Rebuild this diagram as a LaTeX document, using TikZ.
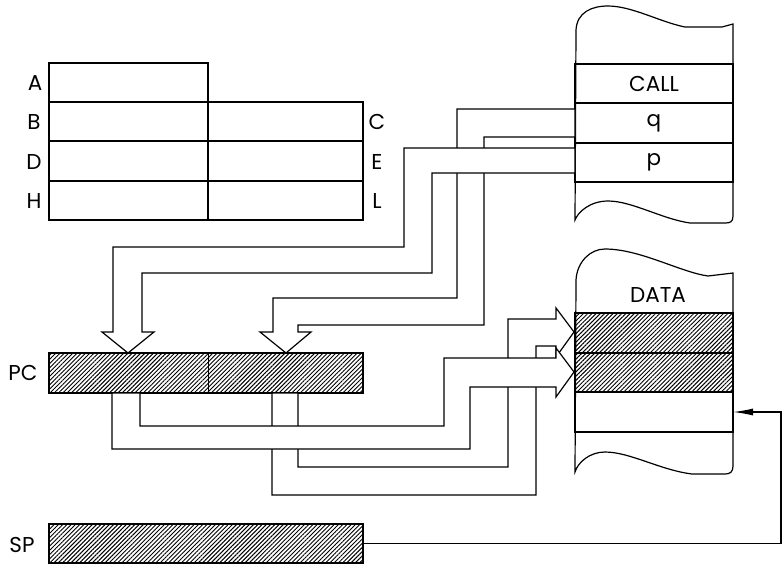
\documentclass[tikz,border=0pt]{standalone}
\usepackage{fontspec}
\setmainfont{Poppins}
\usetikzlibrary{patterns.meta,arrows.meta}
\begin{document}
\begin{tikzpicture}[x=1pt,y=-1pt,
  txt/.style={font=\fontsize{21.5}{24}\selectfont, inner sep=0pt},
  cell/.style={draw, line width=1.3pt, inner sep=0pt, outer sep=0pt, anchor=north west, font=\fontsize{21.5}{24}\selectfont},
  bar/.style={inner sep=0pt, outer sep=0pt, anchor=north west},
  hatch/.style={pattern={Lines[angle=45,distance=3pt,line width=0.95pt]}},
  wide/.style={draw, fill=white, line width=1.2pt, line join=miter},
  memout/.style={draw, fill=white, line width=1.2pt},
  link/.style={draw, line width=1.2pt}]
\useasboundingbox (0,0) rectangle (783,566);

% ---------------- register table ----------------
\node[cell, minimum width=159pt, minimum height=39pt] (A) at (49,63) {};
\node[cell, minimum width=159pt, minimum height=39pt] (B) at (49,102) {};
\node[cell, minimum width=155pt, minimum height=39pt] (C) at (208,102) {};
\node[cell, minimum width=159pt, minimum height=40pt] (D) at (49,141) {};
\node[cell, minimum width=155pt, minimum height=40pt] (E) at (208,141) {};
\node[cell, minimum width=159pt, minimum height=39pt] (H) at (49,181) {};
\node[cell, minimum width=155pt, minimum height=39pt] (L) at (208,181) {};
\node[txt] (lA) at (35,83) {A};
\node[txt] (lB) at (34,122) {B};
\node[txt] (lD) at (34,162) {D};
\node[txt] (lH) at (34,201) {H};
\node[txt] (lC) at (377,122) {C};
\node[txt] (lE) at (377,162) {E};
\node[txt] (lL) at (377,201) {L};

% ---------------- CALL memory ----------------
\path[memout] (575,220) -- (576,30) .. controls (577,12) and (592,6) .. (608,6)
  .. controls (632,6) and (660,22) .. (685,27) -- (722,27) -- (733,24) -- (733,216)
  .. controls (733,222) and (730,223) .. (725,223) -- (690,223)
  .. controls (662,219) and (632,201) .. (608,201)
  .. controls (590,201) and (578,212) .. (575,220) -- cycle;
\node[cell, minimum width=158pt, minimum height=39pt] (call) at (575,64) {CALL};
\node[cell, minimum width=158pt, minimum height=40pt] (cq) at (575,103) {q};
\node[cell, minimum width=158pt, minimum height=39pt] (cp) at (575,143) {p};

% ---------------- DATA memory ----------------
\path[memout] (575,472) -- (576,280) .. controls (577,262) and (590,249) .. (605,249)
  .. controls (640,249) and (680,272) .. (708,276) -- (733,273) -- (733,466)
  .. controls (733,472) and (730,474) .. (725,474) -- (692,474)
  .. controls (660,470) and (630,452) .. (605,452)
  .. controls (590,452) and (578,462) .. (575,472) -- cycle;
\node[txt] (data) at (658,295) {DATA};
\node[cell, hatch, minimum width=158pt, minimum height=40pt] (d1) at (575,313) {};
\node[cell, hatch, minimum width=158pt, minimum height=39pt] (d2) at (575,353) {};
\node[cell, minimum width=158pt, minimum height=40pt] (d3) at (575,392) {};

% ---------------- PC and SP ----------------
\node[bar, hatch, minimum width=159pt, minimum height=40pt] (PCH) at (49,353) {};
\node[bar, hatch, minimum width=155pt, minimum height=40pt] (PCL) at (208,353) {};
\draw[line width=1.3pt] (PCH.north west) rectangle (PCL.south east);
\draw[line width=0.4pt] (PCH.north east) -- (PCH.south east);
\node[txt] (lPC) at (23,373) {PC};
\node[bar, hatch, draw, line width=1.3pt, minimum width=314pt, minimum height=39pt] (SP) at (49,524) {};
\node[txt] (lSP) at (22,545) {SP};

% ---------------- wide arrows: CALL -> PC ----------------
% q -> PC low byte
\path[wide] (575,109) -- (457,109) -- (457,298) -- (273,298) -- (273,332) -- (260,332)
  -- (286,353) -- (311,332) -- (298,332) -- (298,325) -- (484,325) -- (484,137)
  -- (575,137) -- cycle;
% p -> PC high byte
\path[wide] (575,148) -- (404,148) -- (404,247) -- (113,247) -- (113,332) -- (102,332)
  -- (128,353) -- (154,332) -- (142,332) -- (142,273) -- (432,273) -- (432,173)
  -- (575,173) -- cycle;

% ---------------- wide arrows: PC -> DATA ----------------
% PC low byte -> first data row
\path[wide] (272,393) -- (272,495) -- (536,495) -- (536,346) -- (556,346) -- (556,357)
  -- (574,332) -- (556,308) -- (556,319) -- (508,319) -- (508,467) -- (298,467)
  -- (298,393) -- cycle;
% PC high byte -> second data row
\path[wide] (112,393) -- (112,449) -- (470,449) -- (470,387) -- (556,387) -- (556,397)
  -- (574,372) -- (556,348) -- (556,358) -- (444,358) -- (444,426) -- (140,426)
  -- (140,393) -- cycle;

% ---------------- SP -> DATA ----------------
\coordinate (rim) at (781,480);
\draw[line width=1.2pt, -{Latex[length=20pt,width=7pt]}] (SP.east) -| (rim) |- (d3.east);
\end{tikzpicture}
\end{document}
